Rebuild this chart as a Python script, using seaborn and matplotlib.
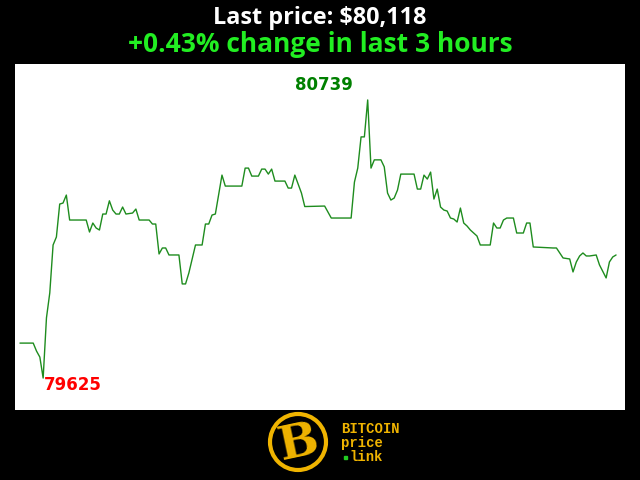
import numpy as np
import matplotlib
matplotlib.use("Agg")
import matplotlib.pyplot as plt
import seaborn as sns
from matplotlib.patches import Circle, Rectangle

# minutes since start of the 3 hour window, and the price at each vertex
minutes = [0, 4, 5, 6, 7, 8, 9, 10, 11, 12,
           13, 14, 15, 20, 21, 22, 23, 24, 25, 26,
           27, 28, 29, 30, 31, 32, 34, 35, 36, 39,
           40, 41, 42, 43, 44, 45, 48, 49, 50, 51,
           53, 55, 56, 57, 58, 59, 61, 62, 67, 68,
           69, 70, 72, 73, 74, 75, 76, 77, 80, 81,
           82, 83, 85, 86, 92, 94, 100, 101, 102, 103,
           104, 105, 106, 107, 109, 110, 111, 112, 113, 114,
           115, 119, 120, 121, 122, 123, 124, 125, 126, 127,
           128, 129, 130, 131, 132, 133, 134, 135, 136, 138,
           139, 142, 143, 144, 145, 146, 147, 149, 150, 152,
           153, 154, 155, 161, 162, 163, 164, 166, 167, 168,
           169, 170, 171, 172, 174, 175, 177, 178, 179, 180]
prices = [79765, 79765, 79733, 79709, 79625, 79866, 79966, 80158, 80190, 80322,
          80326, 80358, 80258, 80258, 80210, 80246, 80226, 80218, 80282, 80282,
          80335, 80298, 80282, 80282, 80310, 80282, 80286, 80302, 80258, 80258,
          80242, 80242, 80122, 80146, 80146, 80118, 80118, 80002, 80002, 80046,
          80158, 80158, 80242, 80242, 80278, 80282, 80438, 80394, 80394, 80466,
          80466, 80434, 80434, 80462, 80462, 80442, 80462, 80414, 80414, 80386,
          80386, 80438, 80366, 80312, 80314, 80266, 80266, 80410, 80466, 80591,
          80591, 80739, 80466, 80499, 80499, 80471, 80366, 80338, 80346, 80378,
          80442, 80442, 80382, 80382, 80438, 80422, 80450, 80342, 80382, 80310,
          80298, 80294, 80266, 80262, 80250, 80306, 80246, 80234, 80218, 80194,
          80158, 80158, 80246, 80226, 80226, 80258, 80266, 80266, 80206, 80206,
          80246, 80246, 80150, 80146, 80146, 80126, 80106, 80102, 80050, 80090,
          80114, 80126, 80114, 80114, 80118, 80078, 80026, 80090, 80110, 80118]

last_price = "$80,118"
pct_change = "+0.43%"
hours = 3

sns.set_style("white")

fig = plt.figure(figsize=(6.4, 4.8), dpi=100, facecolor="black")
ax = fig.add_axes([15/640, 70/480, 610/640, 346/480])
ax.set_facecolor("white")

sns.lineplot(x=minutes, y=prices, ax=ax, color="#1e8c1e", linewidth=1)

ax.set_xlim(-1.5, 182.7)
ax.set_ylim(79497, 80883)
ax.set_xticks([])
ax.set_yticks([])
ax.set_xlabel("")
ax.set_ylabel("")
for s in ax.spines.values():
    s.set_visible(False)

# high / low labels
imax = int(np.argmax(prices))
imin = int(np.argmin(prices))
ax.annotate(str(prices[imax]), (minutes[imax], prices[imax]), xytext=(-44, 15),
            textcoords="offset pixels", ha="center", va="center",
            color="#008000", fontsize=12, fontweight="bold", family="DejaVu Sans")
ax.annotate(str(prices[imin]), (minutes[imin], prices[imin]), xytext=(1, -7),
            textcoords="offset pixels", ha="left", va="center",
            color="#ff0000", fontsize=12, fontweight="bold", family="DejaVu Sans")

# headline
fig.text(0.5, 1 - 18/480, f"Last price: {last_price}", ha="center", va="center",
         color="white", fontsize=16.8, fontweight="bold", family="Open Sans")
fig.text(0.5, 1 - 45/480, f"{pct_change} change in last {hours} hours", ha="center",
         va="center", color="#22ee22", fontsize=19, fontweight="bold", family="Open Sans")

# logo at the bottom
lg = fig.add_axes([0, 0, 1, 1], facecolor="none")
lg.set_xlim(0, 640)
lg.set_ylim(480, 0)
lg.axis("off")
gold = "#f0b400"
lg.add_patch(Circle((298, 442), 28, facecolor="black", edgecolor=gold, linewidth=3))
lg.text(299, 443, "B", ha="center", va="center", color=gold, fontsize=34,
        fontweight="bold", family="DejaVu Serif", rotation=12)
lg.text(341, 429, "BITCOIN", ha="left", va="center", color=gold, fontsize=10,
        fontweight="bold", family="Liberation Mono")
lg.text(341, 443, "price", ha="left", va="center", color=gold, fontsize=10,
        fontweight="bold", family="Liberation Mono")
lg.text(349, 457, "link", ha="left", va="center", color=gold, fontsize=10,
        fontweight="bold", family="Liberation Mono")
lg.add_patch(Rectangle((344, 456), 3, 3, color="#22cc22"))

fig.savefig("out.png", dpi=100, facecolor="black")
